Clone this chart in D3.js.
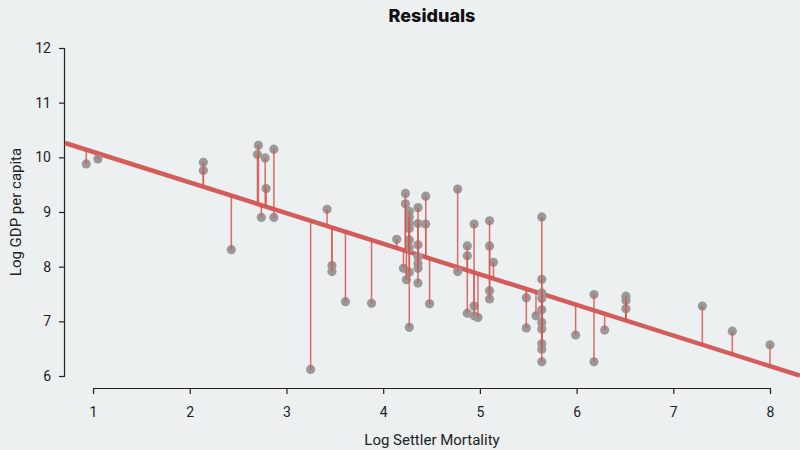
<!DOCTYPE html>
<html>
<head>
<meta charset="utf-8">
<script src="https://cdn.jsdelivr.net/npm/d3@7"></script>
<style>
  html, body { margin: 0; padding: 0; background: #ecf0f1; }
  svg { display: block; font-family: Roboto, "Noto Sans", sans-serif; }
</style>
</head>
<body>
<svg id="chart" width="800" height="450"></svg>
<script>
// log settler mortality (x) and log GDP per capita (y)
const logMortality = [
  0.93, 1.05, 2.14, 2.14, 2.43, 2.71, 2.70, 2.78, 2.79, 2.74, 2.87, 2.87, 3.25,
  3.42, 3.47, 3.47, 3.61, 3.88,
  4.14, 4.23, 4.23, 4.21, 4.24, 4.27, 4.27, 4.27, 4.27, 4.27, 4.27, 4.27, 4.27,
  4.36, 4.36, 4.36, 4.36, 4.36, 4.36, 4.36, 4.44, 4.44, 4.48,
  4.77, 4.77, 4.87, 4.87, 4.87, 4.94, 4.94, 4.94, 4.98, 5.10, 5.10, 5.14, 5.10, 5.10,
  5.48, 5.48, 5.58, 5.64, 5.64, 5.64, 5.64, 5.64, 5.64, 5.64, 5.64, 5.64, 5.64,
  5.99, 6.18, 6.18, 6.29, 6.51, 6.51, 6.51, 7.30, 7.61, 8.00
];
const logGdp = [
  9.88, 9.97, 9.91, 9.76, 8.31, 10.22, 10.05, 9.99, 9.43, 8.90, 10.15, 8.90, 6.12,
  9.05, 8.02, 7.91, 7.36, 7.33,
  8.50, 9.34, 9.15, 7.97, 7.76, 9.01, 8.91, 8.79, 8.70, 8.49, 8.34, 7.90, 6.89,
  9.08, 8.79, 8.40, 8.18, 8.06, 7.97, 7.70, 9.29, 8.78, 7.32,
  9.42, 7.91, 8.38, 8.20, 7.15, 8.78, 7.28, 7.10, 7.07, 8.84, 8.38, 8.08, 7.56, 7.41,
  7.43, 6.88, 7.10, 8.91, 7.77, 7.52, 7.42, 7.21, 6.98, 6.86, 6.59, 6.49, 6.26,
  6.75, 7.49, 6.26, 6.84, 7.46, 7.38, 7.23, 7.28, 6.82, 6.57
];
const xTicks = [1, 2, 3, 4, 5, 6, 7, 8];
const yTicks = [6, 7, 8, 9, 10, 11, 12];
// fitted line
const intercept = 10.66;
const slope = -0.56;

const svg = d3.select("#chart");

const x = d3.scaleLinear().domain([0.71, 8.31]).range([65, 800]);
const y = d3.scaleLinear().domain([6, 12]).range([376, 48]);
const fit = (v) => intercept + slope * v;

const data = logMortality.map((m, i) => ({ m, g: logGdp[i] }));

// x axis: line only spans the first to last tick
const xAxis = svg.append("g")
  .attr("transform", "translate(0,388)")
  .call(d3.axisBottom(x).tickValues(xTicks).tickFormat(d3.format("d"))
    .tickSize(6).tickPadding(13));
xAxis.select(".domain").remove();
xAxis.append("line")
  .attr("class", "axisline")
  .attr("x1", x(1)).attr("x2", x(8)).attr("y1", 0.5).attr("y2", 0.5);

const yAxis = svg.append("g")
  .attr("transform", "translate(65,0)")
  .call(d3.axisLeft(y).tickValues(yTicks).tickFormat(d3.format("d"))
    .tickSize(6).tickPadding(8));
yAxis.select(".domain").remove();
yAxis.append("line")
  .attr("class", "axisline")
  .attr("x1", -0.5).attr("x2", -0.5).attr("y1", y(12)).attr("y2", y(6));

svg.selectAll(".tick text").attr("font-size", 14).attr("fill", "#222")
  .attr("font-family", "Roboto, sans-serif");
svg.selectAll(".axisline, .tick line").attr("stroke", "#222").attr("stroke-width", 1.2);

// regression line
svg.append("line")
  .attr("x1", x(0.71)).attr("y1", y(fit(0.71)))
  .attr("x2", x(8.31)).attr("y2", y(fit(8.31)))
  .attr("stroke", "#d35d5b")
  .attr("stroke-width", 4.5);

// points
svg.append("g")
  .selectAll("circle")
  .data(data)
  .enter()
  .append("circle")
    .attr("cx", d => x(d.m))
    .attr("cy", d => y(d.g))
    .attr("r", 4.6)
    .attr("fill", "#999999");

// residuals
svg.append("g")
  .selectAll("line")
  .data(data)
  .enter()
  .append("line")
    .attr("x1", d => x(d.m)).attr("x2", d => x(d.m))
    .attr("y1", d => y(d.g)).attr("y2", d => y(fit(d.m)))
    .attr("stroke", "#d9534f")
    .attr("stroke-opacity", 0.85)
    .attr("stroke-width", 1.5);

// title and labels
svg.append("text")
  .attr("x", 432).attr("y", 22)
  .attr("text-anchor", "middle")
  .attr("font-family", "Inter, Roboto, sans-serif")
  .attr("font-size", 18).attr("font-weight", 800)
  .attr("fill", "#111")
  .text("Residuals");

svg.append("text")
  .attr("x", 432).attr("y", 445)
  .attr("text-anchor", "middle")
  .attr("font-size", 15).attr("fill", "#222")
  .text("Log Settler Mortality");

svg.append("text")
  .attr("transform", "translate(21,212) rotate(-90)")
  .attr("text-anchor", "middle")
  .attr("font-size", 15).attr("fill", "#222")
  .text("Log GDP per capita");
</script>
</body>
</html>
